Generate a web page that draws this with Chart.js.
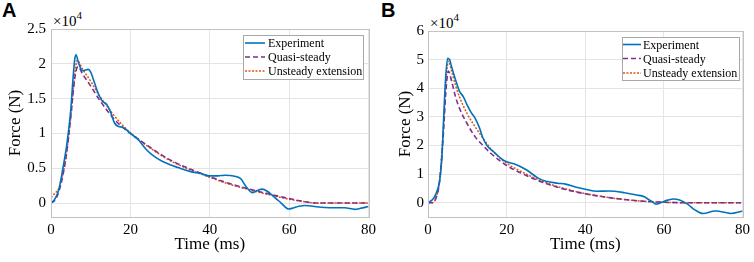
<!DOCTYPE html>
<html>
<head>
    <meta charset="UTF-8">
    <title>Force vs time</title>
    <style>
        body { margin: 0; background: #fff; }
        .panel { position: absolute; top: 0; }
        .letter { position: absolute; top: 0; font: bold 20px "Liberation Sans", Arial, sans-serif; line-height: 1; }
        .expo { position: absolute; font-family: "Liberation Serif", "Times New Roman", serif; font-size: 15px; line-height: 1; white-space: nowrap; }
        .expo span { font-size: 11px; position: relative; top: -7px; }
    </style>
    <script src="https://cdnjs.cloudflare.com/ajax/libs/Chart.js/4.4.1/chart.umd.min.js"></script>
</head>
<body>
    <div class="letter" style="left:2px">A</div>
    <div class="letter" style="left:381px">B</div>
    <div class="expo" style="left:53px;top:14px">×10<span>4</span></div>
    <div class="expo" style="left:430px;top:16px">×10<span>4</span></div>

    <div class="panel" style="left:0px"><canvas id="chartA" width="380" height="262"></canvas></div>
    <div class="panel" style="left:380px"><canvas id="chartB" width="374" height="262"></canvas></div>

    <script>
        const xTicks = [0, 20, 40, 60, 80];
        const yTicksA = [0, 0.5, 1, 1.5, 2, 2.5];
        const yTicksB = [0, 1, 2, 3, 4, 5, 6];
        const legendLabels = ["Experiment", "Quasi-steady", "Unsteady extension"];

        // panel A, force in units of 1e4 N
        const tExpA = [0, 1, 2, 3, 4, 5, 5.5, 6, 6.3, 7, 8, 9.4, 10, 11, 12, 13, 14, 15, 16, 17, 18, 19, 20, 22, 24, 26, 28, 30, 32, 35, 38, 40, 42, 44, 46, 47.8, 49, 50.7, 52, 53.2, 54.5, 55.7, 57, 58, 59.9, 61, 62.5, 64, 66, 68, 70, 74, 76.6, 78, 80];
        const fExpA = [0, 0.06, 0.2, 0.5, 0.85, 1.35, 1.75, 2.07, 2.13, 2.0, 1.9, 1.92, 1.88, 1.72, 1.56, 1.46, 1.42, 1.31, 1.15, 1.1, 1.09, 1.05, 1.0, 0.91, 0.77, 0.67, 0.6, 0.55, 0.51, 0.455, 0.42, 0.39, 0.39, 0.4, 0.39, 0.35, 0.25, 0.15, 0.18, 0.2, 0.17, 0.115, 0.05, 0.0, -0.086, -0.07, -0.045, -0.035, -0.045, -0.06, -0.067, -0.068, -0.09, -0.075, -0.05];
        const tQsA = [0, 1, 2, 3, 4, 5, 6, 6.8, 8, 10, 12, 14, 16, 18, 20, 25, 30, 35, 40, 45, 50, 55, 60, 65, 67, 80];
        const fQsA = [0, 0.04, 0.17, 0.4, 0.75, 1.25, 1.8, 1.96, 1.85, 1.68, 1.5, 1.34, 1.2, 1.09, 1.0, 0.8, 0.62, 0.49, 0.38, 0.28, 0.2, 0.13, 0.065, 0.01, 0, 0];
        const tUnA = [0, 1, 2, 3, 4, 5, 6, 6.6, 8, 10, 12, 14, 16, 18, 20, 25, 30, 35, 40, 45, 50, 55, 60, 65, 67, 80];
        const fUnA = [0.08, 0.14, 0.22, 0.42, 0.75, 1.25, 1.85, 2.05, 1.92, 1.75, 1.56, 1.4, 1.25, 1.12, 1.01, 0.79, 0.61, 0.48, 0.37, 0.27, 0.19, 0.12, 0.055, 0.01, 0, 0];

        // panel B, force in units of 1e4 N
        const tExpB = [0, 1, 2, 3, 3.5, 4, 4.5, 5, 5.5, 6, 7, 8, 9, 10, 11, 12, 13, 14, 15, 17, 19, 20, 22, 25, 28, 30, 33, 35, 38, 40, 43, 46, 50, 53, 55, 56, 57, 58, 59, 61, 62.5, 64, 66, 68, 70, 73, 76, 77, 80];
        const fExpB = [0, 0.09, 0.3, 0.8, 1.5, 3.0, 4.4, 5.05, 5.0, 4.75, 4.3, 3.9, 3.7, 3.4, 3.15, 2.95, 2.65, 2.25, 2.0, 1.74, 1.5, 1.43, 1.35, 1.15, 0.86, 0.75, 0.68, 0.65, 0.53, 0.47, 0.4, 0.41, 0.35, 0.27, 0.21, 0.12, 0.04, -0.05, -0.01, 0.09, 0.13, 0.09, -0.05, -0.26, -0.38, -0.29, -0.35, -0.38, -0.29];
        const tQsB = [0, 1, 2, 3, 4, 4.5, 5.2, 6, 7, 8, 10, 12, 14, 16, 18, 20, 25, 30, 35, 40, 45, 50, 55, 60, 65, 80];
        const fQsB = [0, 0, 0.15, 0.8, 2.6, 3.8, 4.6, 4.25, 3.7, 3.3, 2.75, 2.3, 2.0, 1.72, 1.5, 1.3, 0.95, 0.67, 0.46, 0.31, 0.2, 0.11, 0.05, 0.015, 0, 0];
        const tUnB = [0, 1, 2, 3, 4, 4.5, 5.2, 6, 7, 8, 10, 12, 14, 16, 18, 20, 25, 30, 35, 40, 45, 50, 55, 60, 65, 80];
        const fUnB = [0, 0, 0.15, 0.85, 2.8, 4.1, 4.95, 4.6, 4.1, 3.7, 3.1, 2.65, 2.25, 1.88, 1.6, 1.38, 1.0, 0.7, 0.48, 0.32, 0.2, 0.11, 0.05, 0.015, 0, 0];

        const serif = "'Liberation Serif', 'Times New Roman', serif";
        const seriesStyle = [
            { color: "#0072BD", width: 1.6, dash: [] },
            { color: "#7E2F8E", width: 1.6, dash: [5, 3] },
            { color: "#E0541A", width: 1.5, dash: [2, 1.5] },
        ];

        function pts(t, f) {
            return t.map((x, i) => ({ x: x, y: f[i] }));
        }

        // MATLAB style box round the axes
        const frame = {
            id: "frame",
            afterDatasetsDraw(chart) {
                const { ctx, chartArea: a } = chart;
                ctx.save();
                ctx.strokeStyle = "#c2c2c2";
                ctx.lineWidth = 1;
                ctx.strokeRect(Math.round(a.left) + 0.5, Math.round(a.top) + 0.5, Math.round(a.right - a.left), Math.round(a.bottom - a.top));
                ctx.restore();
            }
        };

        // legend box inside the plot, top right
        const boxLegend = {
            id: "boxLegend",
            afterDraw(chart, args, o) {
                const ctx = chart.ctx;
                ctx.save();
                ctx.fillStyle = "#fff";
                ctx.fillRect(o.left, o.top, o.width, o.height);
                ctx.strokeStyle = "#a8a8a8";
                ctx.lineWidth = 1;
                ctx.strokeRect(o.left + 0.5, o.top + 0.5, o.width, o.height);
                ctx.font = "12px " + serif;
                ctx.textBaseline = "alphabetic";
                chart.data.datasets.forEach((ds, i) => {
                    const base = o.baselines[i];
                    ctx.beginPath();
                    ctx.strokeStyle = ds.borderColor;
                    ctx.lineWidth = ds.borderWidth;
                    ctx.setLineDash(ds.borderDash || []);
                    ctx.moveTo(o.left + o.lineStart, base - 4);
                    ctx.lineTo(o.left + o.lineEnd, base - 4);
                    ctx.stroke();
                    ctx.setLineDash([]);
                    ctx.fillStyle = "#000";
                    ctx.fillText(ds.label, o.left + o.textX, base);
                });
                ctx.restore();
            }
        };

        function makeChart(id, p) {
            const datasets = p.series.map((s, i) => ({
                label: legendLabels[i],
                data: s,
                borderColor: seriesStyle[i].color,
                borderWidth: seriesStyle[i].width,
                borderDash: seriesStyle[i].dash,
                pointRadius: 0,
                fill: false,
                cubicInterpolationMode: "monotone",
            }));
            return new Chart(document.getElementById(id), {
                type: "line",
                data: { datasets: datasets },
                options: {
                    responsive: false,
                    animation: false,
                    layout: { padding: { left: 0, right: p.padRight, top: p.padTop, bottom: 0 } },
                    plugins: { legend: { display: false }, tooltip: { enabled: false }, boxLegend: p.legend },
                    scales: {
                        x: {
                            type: "linear", min: 0, max: 80,
                            afterBuildTicks: s => { s.ticks = xTicks.map(v => ({ value: v })); },
                            afterFit: s => { s.height = 45; },
                            grid: { color: "#e4e4e4", drawTicks: false },
                            border: { display: false },
                            ticks: { color: "#000", padding: 4, font: { family: serif, size: 15 }, maxRotation: 0 },
                            title: { display: true, text: "Time (ms)", color: "#000", font: { family: serif, size: 17 }, padding: { top: 7, bottom: 7 } }
                        },
                        y: {
                            type: "linear", min: p.ymin, max: p.ymax,
                            afterBuildTicks: s => { s.ticks = p.yTicks.map(v => ({ value: v })); },
                            afterFit: s => { s.width = p.yWidth; },
                            grid: { color: "#e4e4e4", drawTicks: false },
                            border: { display: false },
                            ticks: { color: "#000", padding: p.yTickPad, font: { family: serif, size: 15 }, callback: v => String(v) },
                            title: { display: true, text: "Force (N)", color: "#000", font: { family: serif, size: 17 }, padding: { top: p.yTitlePad, bottom: 0 } }
                        }
                    }
                },
                plugins: [frame, boxLegend]
            });
        }

        function drawAll() {
            makeChart("chartA", {
                series: [pts(tExpA, fExpA), pts(tQsA, fQsA), pts(tUnA, fUnA)],
                ymin: -0.2, ymax: 2.5, yTicks: yTicksA,
                yWidth: 51, padRight: 10, padTop: 29, yTickPad: 5, yTitlePad: 5,
                legend: { left: 243, top: 35, width: 120, height: 44, lineStart: 2, lineEnd: 22, textX: 25, baselines: [47, 61, 75] }
            });
            makeChart("chartB", {
                series: [pts(tExpB, fExpB), pts(tQsB, fQsB), pts(tUnB, fUnB)],
                ymin: -0.5, ymax: 6, yTicks: yTicksB,
                yWidth: 48, padRight: 10, padTop: 31, yTickPad: 4, yTitlePad: 15,
                legend: { left: 242, top: 37, width: 117, height: 43, lineStart: 1, lineEnd: 19, textX: 21, baselines: [48.5, 62.5, 77] }
            });
        }

        Promise.all([
            document.fonts.load("15px 'Liberation Serif'"),
            document.fonts.load("12px 'Liberation Serif'")
        ]).then(drawAll, drawAll);
    </script>
</body>
</html>
